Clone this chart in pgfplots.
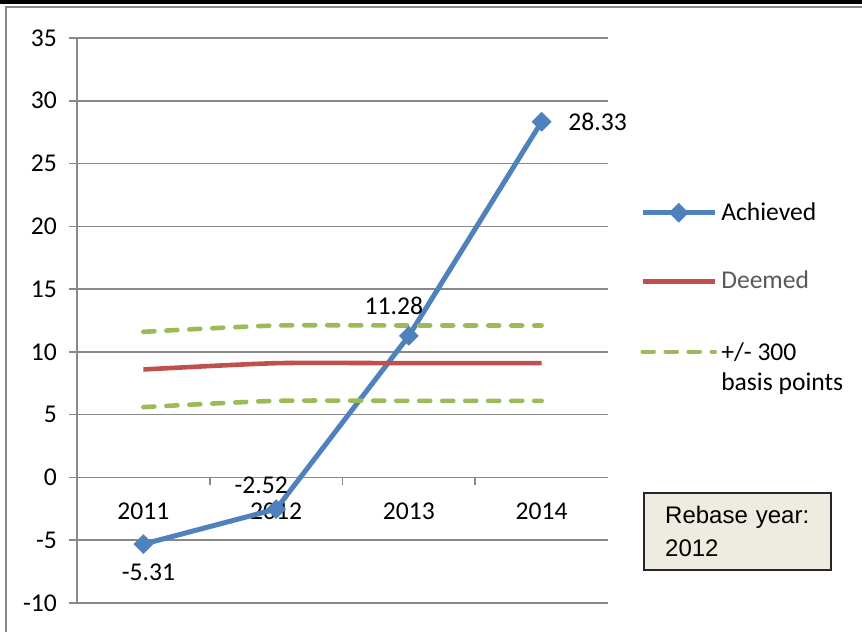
\documentclass[border=0pt]{standalone}
\usepackage{pgfplots}
\pgfplotsset{compat=1.18}
\usepackage{pgfplotstable}
\usepackage{fontspec}
\setmainfont{Carlito}
\newfontfamily\arial{Liberation Sans}

\definecolor{achblue}{HTML}{4F81BD}
\definecolor{deemred}{HTML}{C0504D}
\definecolor{bandgreen}{HTML}{9BBB59}
\definecolor{gridgray}{HTML}{898989}
\definecolor{boxfill}{HTML}{EEECE1}
\definecolor{legtext}{HTML}{595959}

% achieved values, with label offsets (pt)
\pgfplotstableread{
x y dx dy
1 -5.31 2.5 -14
2 -2.52 -7.5 12
3 11.28 -7.5 15
4 28.33 28 0
}\achieved

\pgfplotstableread{
x deemed upper lower
1 8.6 11.6 5.6
2 9.1 12.1 6.1
3 9.1 12.1 6.1
4 9.1 12.1 6.1
}\bands

\begin{document}
\begin{tikzpicture}[x=0.5pt,y=0.5pt]
\path[use as bounding box] (0,0) rectangle (862,632);
\fill[black] (0,628) rectangle (862,632);
\draw[gridgray, line width=1pt] (6,0) |- (862,625);

\begin{axis}[
  at={(38.5pt,14.5pt)}, anchor=south west,
  width=265.5pt, height=282.5pt, scale only axis,
  xmin=0.5, xmax=4.5, ymin=-10, ymax=35,
  xtick={1.5,2.5,3.5}, xticklabels={,,},
  extra x ticks={1,2,3,4}, extra x tick labels={2011,2012,2013,2014},
  extra x tick style={major tick length=0pt, xticklabel style={yshift=-9pt}},
  ytick={-10,-5,...,35},
  axis x line*=middle, axis y line*=left,
  hide obscured x ticks=false, hide obscured y ticks=false,
  tick align=outside,
  major tick length=4pt,
  tick style={gridgray, line width=0.8pt},
  axis line style={gridgray, line width=0.8pt},
  ymajorgrids, grid style={gridgray, line width=0.8pt},
  /pgf/number format/assume math mode=true,
  tick label style={font=\fontsize{12.8pt}{15pt}\selectfont},
  yticklabel style={xshift=-2.5pt},
  legend style={at={(1.060,0.717)}, anchor=north west, draw=none, fill=none,
    inner sep=0pt, row sep=20pt, font=\fontsize{12.8pt}{15pt}\selectfont},
  legend cell align=left,
  legend image code/.code={\draw[mark repeat=2,mark phase=2,#1] plot coordinates {(0pt,0pt) (18pt,0pt) (36pt,0pt)};},
  clip=false,
]
\addplot[achblue, line width=2.5pt, mark=square*, mark size=3.3pt,
  mark options={rotate=45, solid, line width=0.4pt},
  nodes near coords={\pgfmathprintnumber[fixed,fixed zerofill,precision=2]{\pgfplotspointmeta}},
  point meta=explicit,
  visualization depends on={\thisrow{dx} \as \dx},
  visualization depends on={\thisrow{dy} \as \dy},
  every node near coord/.append style={anchor=center, black,
    xshift=\dx pt, yshift=\dy pt, font=\fontsize{12.8pt}{15pt}\selectfont},
] table[x=x, y=y, meta=y] {\achieved};
\addlegendentry{Achieved}
\addplot[deemred, line width=2.3pt, smooth, tension=0.4] table[x=x, y=deemed] {\bands};
\addlegendentry{\textcolor{legtext}{Deemed}}
\addplot[bandgreen, line width=2.3pt, line cap=round, dash pattern=on 5.5pt off 6pt, smooth, tension=0.4]
  table[x=x, y=upper] {\bands};
\addlegendentry{\raisebox{0pt}[\height][0pt]{\begin{tabular}[t]{@{}l@{}}+/- 300\\basis points\end{tabular}}}
\addplot[bandgreen, line width=2.3pt, line cap=round, dash pattern=on 5.5pt off 6pt, smooth, tension=0.4, forget plot]
  table[x=x, y=lower] {\bands};
\end{axis}

\node[anchor=north west, draw=black!85, line width=1.2pt, fill=boxfill,
  text width=72.5pt, inner xsep=10.5pt, minimum height=38.5pt, align=left,
  font=\arial\fontsize{12pt}{16.5pt}\selectfont] at (643,140) {Rebase year:\\2012};
\end{tikzpicture}
\end{document}
